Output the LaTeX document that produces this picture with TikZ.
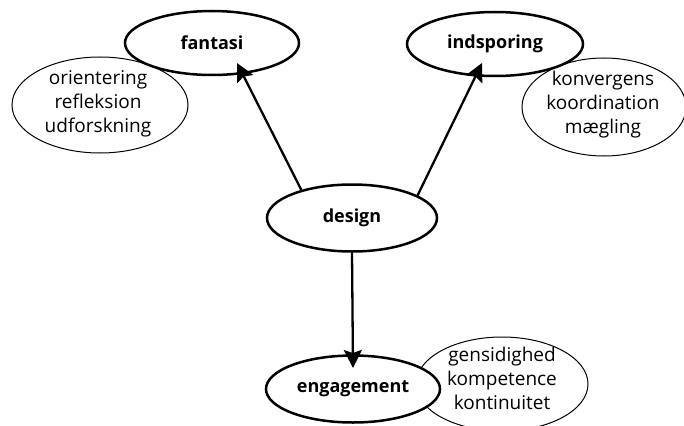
\documentclass[tikz,border=0pt]{standalone}
\usepackage{fontspec}
\setmainfont{Open Sans}
\usetikzlibrary{shapes.geometric,arrows.meta}
\begin{document}
\begin{tikzpicture}[x=1pt,y=-1pt,
  bigell/.style={ellipse, draw, line width=2.5pt, fill=white, inner sep=0pt,
    font=\fontsize{18}{20}\selectfont\bfseries},
  thinell/.style={ellipse, draw, line width=1pt, inner sep=0pt},
  lbl/.style={align=center, font=\fontsize{19}{24}\selectfont, inner sep=0pt},
  arr/.style={line width=2.3pt, -{Stealth[length=18pt,width=18pt,inset=3pt]}}]
\clip (0,0) rectangle (684,425);
% thin ellipses
\node[thinell, minimum width=176pt, minimum height=96pt] (orient) at (100,105) {};
\node[lbl] (orientT) at (98,104) {orientering\\refleksion\\udforskning};
\node[thinell, minimum width=164pt, minimum height=98pt] (konv) at (604,107) {};
\node[lbl] (konvT) at (603,105) {konvergens\\koordination\\mægling};
\node[thinell, minimum width=172pt, minimum height=94pt] (gens) at (502,384) {};
\node[lbl] (gensT) at (502,378) {gensidighed\\kompetence\\kontinuitet};
% thick ellipses
\node[bigell, minimum width=174pt, minimum height=64pt] (fantasi) at (212,43) {fantasi};
\node[bigell, minimum width=176pt, minimum height=64pt] (indsporing) at (495,44) {indsporing};
\node[bigell, minimum width=170pt, minimum height=67pt] (design) at (352,218) {design};
\node[bigell, minimum width=174pt, minimum height=67pt] (engagement) at (353,389) {engagement};
% arrows
\draw[arr] (design.151) -- ([shift={(25,20)}]fantasi.center);
\draw[arr] (design.19) -- ([shift={(-13,19)}]indsporing.center);
\draw[arr] (design.south) -- ([shift={(0,-21)}]engagement.center);
\end{tikzpicture}
\end{document}
